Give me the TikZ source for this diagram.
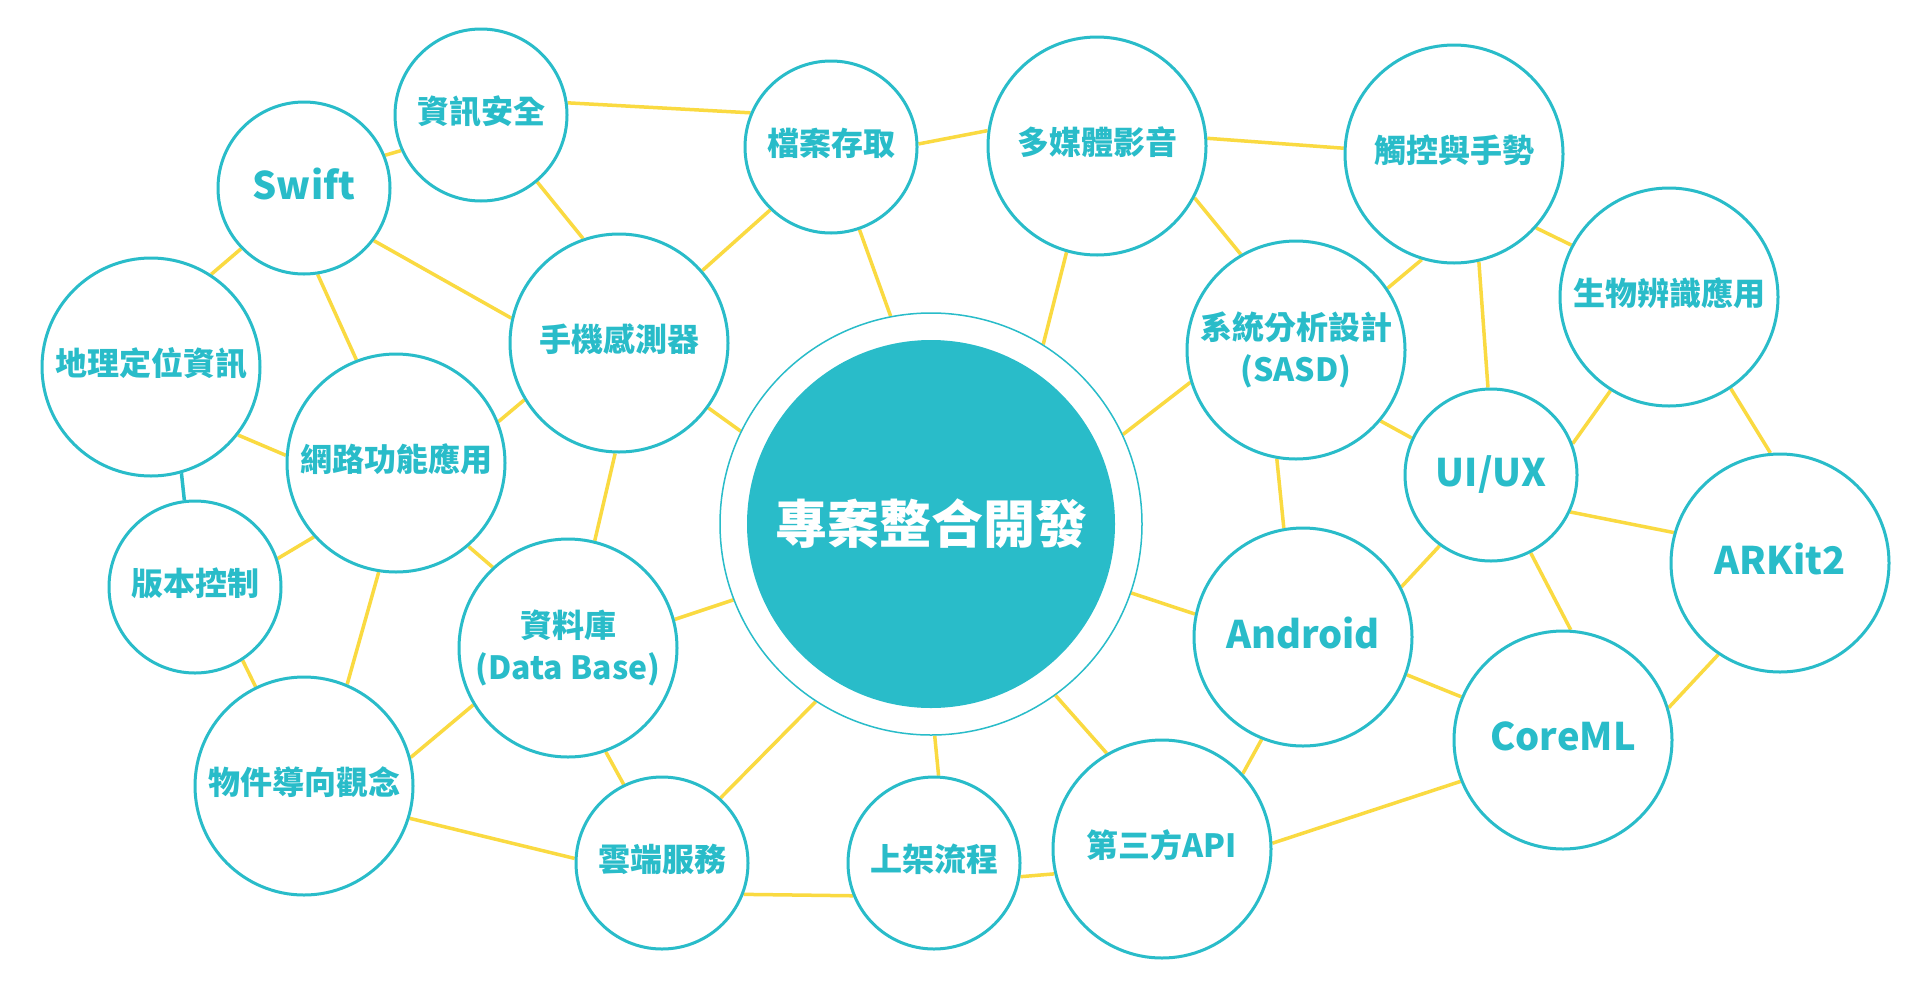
\documentclass[tikz,border=0pt]{standalone}
\usepackage{fontspec}
\newfontfamily\cjk{Noto Sans CJK TC}
\usetikzlibrary{backgrounds}
\definecolor{tealc}{RGB}{41,188,201}
\definecolor{yel}{RGB}{250,218,65}
\tikzset{
  bub/.style={circle, draw=tealc, line width=1.5pt, fill=white, text=tealc, inner sep=0pt, align=center,
    font=\cjk\bfseries\fontsize{16}{21}\selectfont},
  smallb/.style={bub, minimum size=86pt},
  largeb/.style={bub, minimum size=109pt},
  lift/.style={text depth=5pt},
  latin/.style={font=\cjk\bfseries\fontsize{19}{23}\selectfont, text depth=4pt},
  link/.style={draw=yel, line width=1.75pt},
  tlink/.style={draw=tealc, line width=1.75pt},
}
\begin{document}
\begin{tikzpicture}[x=0.5pt, y=-0.5pt]
\useasboundingbox (0,0) rectangle (1920,980);
% central
\node[circle, draw=tealc, line width=0.75pt, fill=white, minimum size=211pt, inner sep=0pt] (Cout) at (931,524) {};
\node[circle, fill=tealc, minimum size=184pt, inner sep=0pt, text=white,
  font=\cjk\bfseries\fontsize{26}{30}\selectfont] (C) at (931,524) {專案整合開發};
% satellites
\node[smallb, lift] (A) at (481,115) {資訊安全};
\node[smallb, lift] (B) at (831,147) {檔案存取};
\node[smallb, latin] (S) at (304,188) {Swift};
\node[largeb, lift] (G) at (151,367) {地理定位資訊};
\node[largeb, lift] (M) at (619,343) {手機感測器};
\node[largeb, lift] (N) at (396,463) {網路功能應用};
\node[smallb, lift] (V) at (195,587) {版本控制};
\node[largeb, lift] (O) at (304,786) {物件導向觀念};
\node[largeb] (D) at (568,648) {資料庫\\(Data Base)};
\node[smallb, lift] (Y) at (662,863) {雲端服務};
\node[smallb, lift] (L) at (934,863) {上架流程};
\node[largeb, lift] (P) at (1162,849) {第三方API};
\node[largeb, lift] (MM) at (1097,146) {多媒體影音};
\node[largeb, lift] (T) at (1454,154) {觸控與手勢};
\node[largeb] (SA) at (1296,350) {系統分析設計\\(SASD)};
\node[largeb, lift] (BI) at (1669,297) {生物辨識應用};
\node[smallb, latin] (U) at (1491,475) {UI/UX};
\node[largeb, latin] (AR) at (1780,563) {ARKit2};
\node[largeb, latin] (AN) at (1303,637) {Android};
\node[largeb, latin] (CM) at (1563,740) {CoreML};
\begin{scope}[on background layer]
\fill[white] (0,0) rectangle (1920,980);
\draw[link] (A.8) -- (B.157);
\draw[link] (A.204) -- (S.22);
\draw[link] (A.310) -- (M.109);
\draw[link] (B.2) -- (MM.172);
\draw[link] (B.226) -- (M.41);
\draw[link] (B.289) -- (Cout.101);
\draw[link] (S.224) -- (G.57);
\draw[link] (S.323) -- (M.167);
\draw[link] (S.279) -- (N.111);
\draw[link] (G.322) -- (N.176);
\draw[tlink] (G.286) -- (V.97);
\draw[link] (N.22) -- (M.211);
\draw[link] (M.324) -- (Cout.154);
\draw[link] (M.268) -- (D.76);
\draw[link] (N.222) -- (V.19);
\draw[link] (N.261) -- (O.67);
\draw[link] (N.311) -- (D.133);
\draw[link] (V.303) -- (O.116);
\draw[link] (O.15) -- (D.211);
\draw[link] (O.343) -- (Y.177);
\draw[link] (D.15) -- (Cout.201);
\draw[link] (D.290) -- (Y.116);
\draw[link] (Y.48) -- (Cout.237);
\draw[link] (Y.339) -- (L.202);
\draw[link] (Cout.271) -- (L.87);
\draw[link] (L.351) -- (P.193);
\draw[link] (Cout.306) -- (P.120);
\draw[link] (P.43) -- (AN.248);
\draw[link] (P.3) -- (CM.202);
\draw[link] (Cout.341) -- (AN.168);
\draw[link] (AN.340) -- (CM.157);
\draw[link] (AN.27) -- (U.234);
\draw[link] (U.297) -- (CM.86);
\draw[link] (U.335) -- (AR.164);
\draw[link] (CM.17) -- (AR.236);
\draw[link] (SA.260) -- (AN.100);
\draw[link] (MM.4) -- (T.177);
\draw[link] (MM.254) -- (Cout.58);
\draw[link] (MM.332) -- (SA.120);
\draw[link] (SA.197) -- (Cout.25);
\draw[link] (SA.34) -- (T.253);
\draw[link] (SA.320) -- (U.155);
\draw[link] (T.283) -- (U.92);
\draw[link] (T.318) -- (BI.152);
\draw[link] (BI.238) -- (U.21);
\draw[link] (BI.304) -- (AR.95);
\end{scope}
\end{tikzpicture}
\end{document}
